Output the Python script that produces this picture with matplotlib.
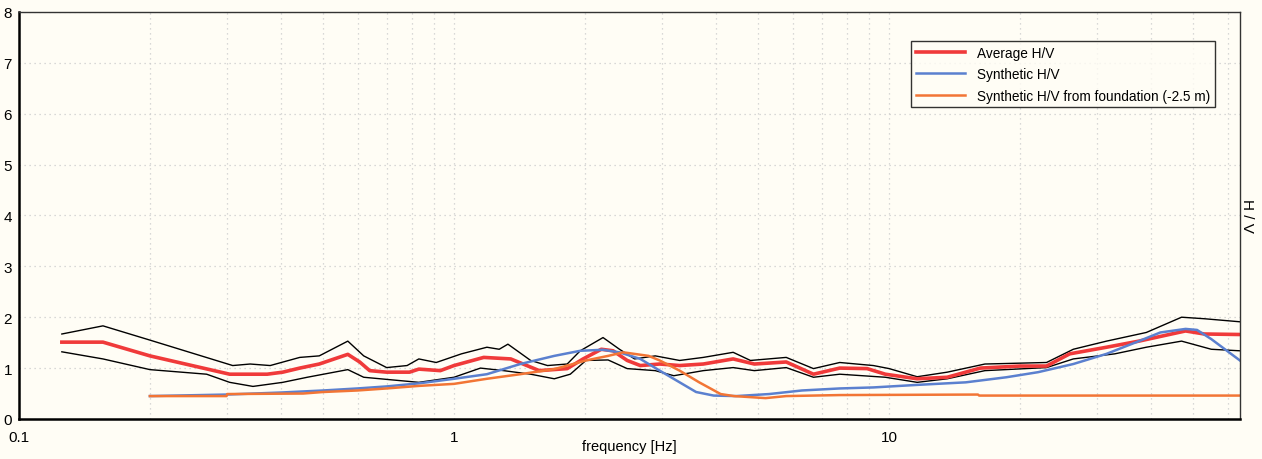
import matplotlib
matplotlib.use("Agg")
import matplotlib.pyplot as plt
from matplotlib.ticker import FixedLocator, LogLocator, NullFormatter

plt.rcParams['font.family'] = ['Liberation Sans Narrow', 'Liberation Sans', 'DejaVu Sans']

# Average H/V (red)
avg_f = [0.1255, 0.156, 0.2, 0.305, 0.372, 0.404, 0.442, 0.49, 0.57, 0.607,
         0.64, 0.70, 0.79, 0.83, 0.93, 1.0, 1.17, 1.35, 1.47, 1.57,
         1.82, 1.98, 2.18, 2.32, 2.5, 2.68, 2.97, 3.3, 3.74, 4.38,
         4.9, 5.8, 6.7, 7.7, 8.9, 9.8, 11.6, 13.6, 16.2, 20,
         23, 26, 31.6, 37.5, 48, 53, 64]
avg_v = [1.51, 1.51, 1.24, 0.88, 0.88, 0.92, 1.0, 1.08, 1.27, 1.12,
         0.95, 0.92, 0.92, 0.98, 0.95, 1.05, 1.21, 1.18, 1.05, 0.95,
         0.99, 1.18, 1.37, 1.34, 1.15, 1.05, 1.08, 1.05, 1.08, 1.18,
         1.08, 1.12, 0.88, 1.0, 0.99, 0.88, 0.79, 0.82, 1.0, 1.04,
         1.04, 1.28, 1.41, 1.53, 1.73, 1.67, 1.66]

# upper standard deviation (black)
up_f = [0.1255, 0.156, 0.2, 0.31, 0.34, 0.378, 0.442, 0.49, 0.57, 0.62,
        0.70, 0.78, 0.83, 0.91, 1.04, 1.19, 1.27, 1.33, 1.5, 1.64,
        1.82, 1.95, 2.2, 2.4, 2.6, 2.9, 3.3, 3.74, 4.38, 4.8,
        5.8, 6.7, 7.7, 9.2, 10, 11.6, 13.6, 16.6, 23, 26.5,
        31.6, 39, 47, 53, 64]
up_v = [1.67, 1.83, 1.55, 1.05, 1.08, 1.05, 1.21, 1.24, 1.53, 1.24,
        1.01, 1.05, 1.18, 1.11, 1.28, 1.41, 1.37, 1.47, 1.15, 1.05,
        1.08, 1.34, 1.6, 1.37, 1.18, 1.24, 1.15, 1.21, 1.31, 1.15,
        1.21, 0.99, 1.11, 1.05, 0.99, 0.83, 0.92, 1.08, 1.11, 1.37,
        1.53, 1.7, 2.0, 1.97, 1.91]

# lower standard deviation (black)
lo_f = [0.1255, 0.156, 0.2, 0.27, 0.305, 0.345, 0.404, 0.46, 0.57, 0.62,
        0.76, 0.83, 1.0, 1.15, 1.3, 1.5, 1.7, 1.85, 2.01, 2.26,
        2.5, 2.9, 3.2, 3.74, 4.38, 4.9, 5.8, 6.7, 7.7, 9.8,
        11.6, 13.6, 16.6, 23, 26.5, 33, 39, 47, 55, 64]
lo_v = [1.32, 1.18, 0.97, 0.88, 0.72, 0.64, 0.72, 0.82, 0.97, 0.82,
        0.75, 0.72, 0.82, 1.0, 0.95, 0.88, 0.79, 0.88, 1.15, 1.16,
        0.99, 0.95, 0.85, 0.95, 1.01, 0.95, 1.01, 0.82, 0.88, 0.82,
        0.72, 0.79, 0.95, 1.01, 1.18, 1.28, 1.41, 1.53, 1.37, 1.34]

# Synthetic H/V (blue)
syn_f = [0.2, 0.3, 0.4, 0.5, 0.6, 0.7, 0.83, 1.0, 1.19, 1.42,
         1.7, 1.95, 2.2, 2.4, 2.68, 2.97, 3.3, 3.6, 3.95, 4.45,
         5.3, 6.3, 7.7, 9.2, 11.6, 15, 18.6, 22, 26.5, 31.6,
         37.5, 42, 48, 51, 55, 64]
syn_v = [0.45, 0.48, 0.52, 0.56, 0.6, 0.64, 0.70, 0.79, 0.88, 1.08,
         1.24, 1.34, 1.36, 1.31, 1.18, 0.95, 0.72, 0.53, 0.46, 0.45,
         0.49, 0.56, 0.60, 0.62, 0.67, 0.72, 0.82, 0.92, 1.08, 1.28,
         1.53, 1.70, 1.77, 1.75, 1.57, 1.15]

# Synthetic H/V from foundation (orange)
fnd_f = [0.2, 0.3, 0.301, 0.45, 0.5, 0.6, 0.7, 0.83, 1.0, 1.19,
         1.42, 1.7, 2.01, 2.26, 2.45, 2.8, 2.97, 3.3, 3.66, 4.1,
         4.4, 5.2, 5.8, 7.7, 16, 16.1, 64]
fnd_v = [0.45, 0.45, 0.49, 0.5, 0.53, 0.56, 0.6, 0.65, 0.69, 0.79,
         0.88, 0.98, 1.15, 1.24, 1.31, 1.24, 1.15, 0.95, 0.72, 0.49,
         0.45, 0.41, 0.45, 0.47, 0.48, 0.46, 0.46]

bg = '#fffdf5'
fig = plt.figure(figsize=(12.62, 4.60), dpi=100, facecolor=bg)
ax = fig.add_axes([0.015, 0.087, 0.9675, 0.885], facecolor=bg)

ax.plot(up_f, up_v, color='black', lw=1.0)
ax.plot(lo_f, lo_v, color='black', lw=1.0)
ax.plot(avg_f, avg_v, color='#f03a3a', lw=2.6, label='Average H/V')
ax.plot(syn_f, syn_v, color='#5b80cf', lw=1.8, label='Synthetic H/V')
ax.plot(fnd_f, fnd_v, color='#f27535', lw=1.8, label='Synthetic H/V from foundation (-2.5 m)')

ax.set_xscale('log')
ax.set_xlim(0.1, 64)
ax.set_ylim(0, 8)
ax.xaxis.set_major_locator(FixedLocator([0.1, 1, 10]))
ax.xaxis.set_major_formatter(plt.FuncFormatter(lambda v, p: f'{v:g}'))
ax.xaxis.set_minor_locator(LogLocator(base=10, subs=range(2, 10)))
ax.xaxis.set_minor_formatter(NullFormatter())
ax.set_yticks(range(0, 9))

ax.grid(True, which='both', color='#cccccc', lw=0.9, ls=(0, (1, 3)))
ax.tick_params(which='both', length=0, labelsize=11, pad=5)
ax.tick_params(axis='x', pad=8)

for side in ['left', 'bottom']:
    ax.spines[side].set_linewidth(1.8)
for side in ['top', 'right']:
    ax.spines[side].set_linewidth(1.0)
    ax.spines[side].set_color('#333333')

ax.set_xlabel('frequency [Hz]', fontsize=10.5, labelpad=-4)
ax.yaxis.set_label_position('right')
ax.set_ylabel('H / V', fontsize=11, rotation=-90, labelpad=10)

leg = ax.legend(loc='upper right', bbox_to_anchor=(0.9795, 0.929), borderaxespad=0,
                fontsize=9.8, frameon=True, fancybox=False, edgecolor='black',
                handlelength=3.6, handletextpad=0.9, labelspacing=0.55,
                borderpad=0.35)
leg.get_frame().set_linewidth(1.0)
leg.get_frame().set_facecolor(bg)

fig.savefig('out.png', dpi=100, facecolor=bg)
